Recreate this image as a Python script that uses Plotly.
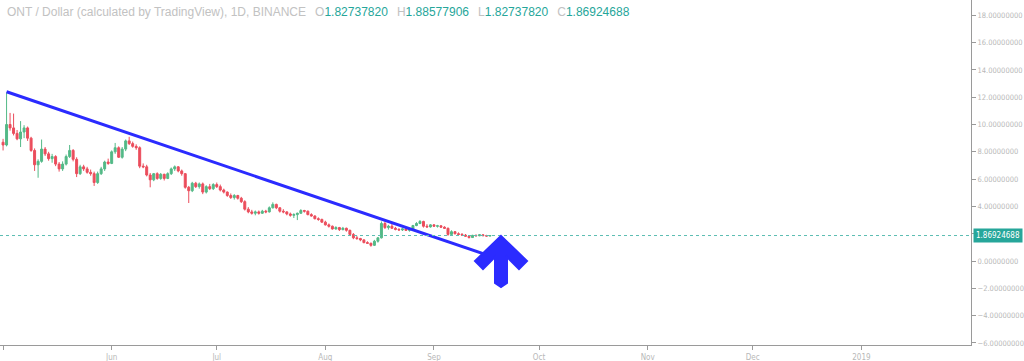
import pandas as pd
import plotly.graph_objects as go

# ---- data ----
start_date = "2018-05-01"
open_ = [8.70, 8.50, 10.00, 9.75, 9.35, 8.95, 9.45, 9.75, 9.00, 8.10,
         7.05, 7.30, 8.20, 7.85, 7.50, 7.65, 7.10, 6.75, 7.10, 7.65,
         8.10, 7.45, 6.40, 6.90, 6.75, 6.50, 6.40, 5.75, 6.40, 6.75,
         7.25, 7.15, 8.00, 8.30, 7.60, 8.20, 8.80, 8.60, 8.40, 8.30,
         6.95, 6.90, 6.30, 5.95, 6.40, 6.05, 6.35, 6.05, 6.40, 6.75,
         6.90, 6.60, 6.40, 5.40, 5.15, 5.70, 5.45, 5.65, 5.05, 5.45,
         5.30, 5.60, 5.45, 5.20, 5.05, 4.80, 4.65, 4.80, 4.60, 4.35,
         3.80, 3.60, 3.50, 3.60, 3.50, 3.65, 3.60, 3.90, 4.15, 3.90,
         3.65, 3.60, 3.45, 3.35, 3.40, 3.50, 3.70, 3.65, 3.40, 3.30,
         3.10, 3.05, 2.85, 2.65, 2.55, 2.35, 2.45, 2.30, 2.40, 2.25,
         1.95, 1.70, 1.65, 1.55, 1.35, 1.30, 1.15, 1.45, 1.70, 2.75,
         2.45, 2.55, 2.40, 2.32, 2.28, 2.35, 2.25, 2.30, 2.60, 2.75,
         2.90, 2.55, 2.50, 2.65, 2.55, 2.58, 2.48, 2.40, 1.95, 2.15,
         2.00, 1.95, 1.90, 1.82, 1.72, 1.88, 1.85, 1.92, 1.86, 1.82737820]
high = [8.95, 12.35, 10.85, 10.80, 9.60, 10.25, 9.95, 9.85, 9.10, 8.25,
        7.45, 8.90, 8.35, 8.00, 7.85, 7.75, 7.25, 7.30, 7.80, 8.50,
        8.20, 7.60, 7.05, 7.05, 6.90, 6.70, 6.55, 6.55, 6.90, 7.35,
        7.50, 8.10, 8.65, 8.40, 8.35, 8.90, 9.10, 8.75, 8.55, 8.40,
        7.15, 7.05, 6.45, 6.45, 6.50, 6.45, 6.40, 6.50, 6.85, 7.00,
        6.95, 6.70, 6.45, 5.50, 5.80, 5.80, 5.75, 5.75, 5.55, 5.65,
        5.70, 5.75, 5.60, 5.30, 5.10, 4.95, 4.90, 4.85, 4.70, 4.45,
        3.95, 3.75, 3.70, 3.70, 3.75, 3.75, 4.00, 4.30, 4.20, 3.95,
        3.80, 3.65, 3.55, 3.50, 3.55, 3.80, 3.75, 3.70, 3.50, 3.35,
        3.20, 3.10, 2.95, 2.75, 2.60, 2.55, 2.50, 2.50, 2.45, 2.30,
        2.05, 1.85, 1.70, 1.60, 1.45, 1.35, 1.55, 1.75, 2.90, 2.90,
        2.65, 2.85, 2.50, 2.40, 2.40, 2.40, 2.35, 2.65, 2.85, 3.00,
        2.95, 2.70, 2.70, 2.70, 2.65, 2.62, 2.55, 2.45, 2.25, 2.20,
        2.10, 2.05, 1.98, 1.90, 1.92, 1.95, 1.95, 1.96, 1.92, 1.88577906]
low = [8.10, 8.40, 9.55, 9.20, 8.85, 8.35, 9.00, 8.80, 8.00, 6.60,
       6.10, 7.20, 7.70, 7.35, 7.20, 6.95, 6.55, 6.60, 7.00, 7.55,
       7.30, 6.15, 6.30, 6.60, 6.40, 6.25, 5.50, 5.65, 6.30, 6.60,
       7.05, 7.10, 7.85, 7.55, 7.50, 8.05, 8.50, 8.30, 8.15, 6.80,
       6.80, 6.20, 5.40, 5.85, 5.95, 5.95, 5.90, 6.00, 6.30, 6.60,
       6.50, 6.25, 5.30, 4.25, 5.05, 5.35, 5.30, 4.90, 4.95, 5.20,
       5.20, 5.35, 5.10, 4.95, 4.70, 4.55, 4.50, 4.50, 4.25, 3.70,
       3.50, 3.40, 3.35, 3.40, 3.45, 3.50, 3.55, 3.85, 3.80, 3.55,
       3.50, 3.35, 3.25, 3.15, 3.00, 3.45, 3.55, 3.35, 3.25, 3.05,
       2.95, 2.80, 2.60, 2.45, 2.30, 2.30, 2.20, 2.25, 2.15, 1.85,
       1.60, 1.55, 1.45, 1.30, 1.25, 1.05, 1.10, 1.35, 1.65, 2.35,
       2.30, 2.35, 2.25, 2.20, 2.20, 2.20, 2.15, 2.25, 2.55, 2.70,
       2.45, 2.45, 2.45, 2.50, 2.45, 2.42, 2.35, 1.85, 1.90, 1.95,
       1.90, 1.85, 1.78, 1.65, 1.70, 1.80, 1.82, 1.82, 1.80, 1.82737820]
close = [8.50, 10.00, 9.75, 9.35, 8.95, 9.45, 9.75, 9.00, 8.10, 7.05,
         7.30, 8.20, 7.85, 7.50, 7.65, 7.10, 6.75, 7.10, 7.65, 8.10,
         7.45, 6.40, 6.90, 6.75, 6.50, 6.40, 5.75, 6.40, 6.75, 7.25,
         7.15, 8.00, 8.30, 7.60, 8.20, 8.80, 8.60, 8.40, 8.30, 6.95,
         6.90, 6.30, 5.95, 6.40, 6.05, 6.35, 6.05, 6.40, 6.75, 6.90,
         6.60, 6.40, 5.40, 5.15, 5.70, 5.45, 5.65, 5.05, 5.45, 5.30,
         5.60, 5.45, 5.20, 5.05, 4.80, 4.65, 4.80, 4.60, 4.35, 3.80,
         3.60, 3.50, 3.60, 3.50, 3.65, 3.60, 3.90, 4.15, 3.90, 3.65,
         3.60, 3.45, 3.35, 3.40, 3.50, 3.70, 3.65, 3.40, 3.30, 3.10,
         3.05, 2.85, 2.65, 2.55, 2.35, 2.45, 2.30, 2.40, 2.25, 1.95,
         1.70, 1.65, 1.55, 1.35, 1.30, 1.15, 1.45, 1.70, 2.75, 2.45,
         2.55, 2.40, 2.32, 2.28, 2.35, 2.25, 2.30, 2.60, 2.75, 2.90,
         2.55, 2.50, 2.65, 2.55, 2.58, 2.48, 2.40, 1.95, 2.15, 2.00,
         1.95, 1.90, 1.82, 1.72, 1.88, 1.85, 1.92, 1.86, 1.83, 1.86924688]

last_price = 1.86924688
trend_x = ["2018-05-02 00:00", "2018-09-21 06:00"]
trend_y = [12.40, 0.0]

month_ticks = ["2018-05-01", "2018-06-01", "2018-07-01", "2018-08-01", "2018-09-01",
               "2018-10-01", "2018-11-01", "2018-12-01", "2019-01-01"]
month_labels = ["May", "Jun", "Jul", "Aug", "Sep", "Oct", "Nov", "Dec", "2019"]
price_ticks = [-6, -4, -2, 0, 2, 4, 6, 8, 10, 12, 14, 16, 18]

dates = pd.date_range(start_date, periods=len(close), freq="D")

UP = "#53b987"
DOWN = "#eb4d5c"
BLUE = "#2b2bff"
TEAL = "#26a69a"
GREY = "#b8b8b8"
NARROW = "Liberation Sans Narrow, DejaVu Sans Condensed, Liberation Sans, sans-serif"

fig = go.Figure()
fig.add_trace(go.Candlestick(
    x=dates, open=open_, high=high, low=low, close=close,
    increasing=dict(line=dict(color=UP, width=1), fillcolor=UP),
    decreasing=dict(line=dict(color=DOWN, width=1), fillcolor=DOWN),
    whiskerwidth=0, hoverinfo="skip", showlegend=False,
))
fig.add_trace(go.Scatter(
    x=trend_x, y=trend_y, mode="lines",
    line=dict(color=BLUE, width=3), hoverinfo="skip", showlegend=False,
))

# dotted last-price line
fig.add_shape(type="line", xref="paper", yref="y", x0=0, x1=1,
              y0=last_price, y1=last_price,
              line=dict(color="#5cbdb2", width=1, dash="dot"))

# arrow (pixel geometry converted to paper units of the 971x345 plot area)
W, H = 971.0, 345.0
arrow_px = [(501, 236), (527, 261), (519, 269), (507, 257), (507, 283),
            (501, 287), (495, 283), (495, 257), (483, 269), (475, 261)]
path = "M " + " L ".join(f"{px / W:.5f},{1 - py / H:.5f}" for px, py in arrow_px) + " Z"
fig.add_shape(type="path", xref="paper", yref="paper", path=path,
              fillcolor=BLUE, line=dict(color=BLUE, width=2))

# title + OHLC readout
SEP = "&nbsp;&nbsp;&#8201;"
title = ("<span style='color:#c2c2c2'>ONT / Dollar (calculated by TradingView), 1D, BINANCE</span>"
         + SEP +
         f"<span style='color:#c2c2c2'>O</span><span style='color:{TEAL}'>{open_[-1]:.8f}</span>" + SEP +
         f"<span style='color:#c2c2c2'>H</span><span style='color:{TEAL}'>{high[-1]:.8f}</span>" + SEP +
         f"<span style='color:#c2c2c2'>L</span><span style='color:{TEAL}'>{low[-1]:.8f}</span>" + SEP +
         f"<span style='color:#c2c2c2'>C</span><span style='color:{TEAL}'>{close[-1]:.8f}</span>")
fig.add_annotation(xref="paper", yref="paper", x=5 / W, y=1 - 12 / H,
                   xanchor="left", yanchor="middle", showarrow=False, text=title,
                   font=dict(family="Liberation Sans, sans-serif", size=12))

# last price label on the axis
fig.add_annotation(xref="paper", yref="y", x=1.0, y=last_price, xshift=2,
                   xanchor="left", yanchor="middle", showarrow=False,
                   text=f"{last_price:.8f}", bgcolor=TEAL, borderpad=2,
                   font=dict(family=NARROW, size=8, color="white"))

fig.update_layout(
    width=1024, height=361,
    margin=dict(l=0, r=53, t=0, b=16),
    paper_bgcolor="white", plot_bgcolor="white",
    boxgap=0.2,
    xaxis=dict(
        type="date", range=["2018-04-30 03:00", "2019-02-01 07:00"],
        rangeslider=dict(visible=False),
        tickvals=month_ticks, ticktext=month_labels,
        showgrid=False, zeroline=False,
        showline=True, linecolor="#9a9a9a", linewidth=1,
        ticks="outside", ticklen=4, tickcolor="#9a9a9a",
        tickfont=dict(family=NARROW, size=8, color=GREY),
        fixedrange=True, automargin=False,
    ),
    yaxis=dict(
        side="right", range=[-6.15, 19.12],
        tickvals=price_ticks, tickformat=".8f",
        showgrid=False, zeroline=False,
        showline=True, linecolor="#9a9a9a", linewidth=1,
        ticks="outside", ticklen=4, tickcolor="#9a9a9a",
        tickfont=dict(family=NARROW, size=7.5, color=GREY),
        fixedrange=True, automargin=False,
    ),
)

fig.write_html(
    "out.html",
    config={"displayModeBar": False},
    post_script="document.body.style.margin='0';document.body.style.overflow='hidden';",
)
